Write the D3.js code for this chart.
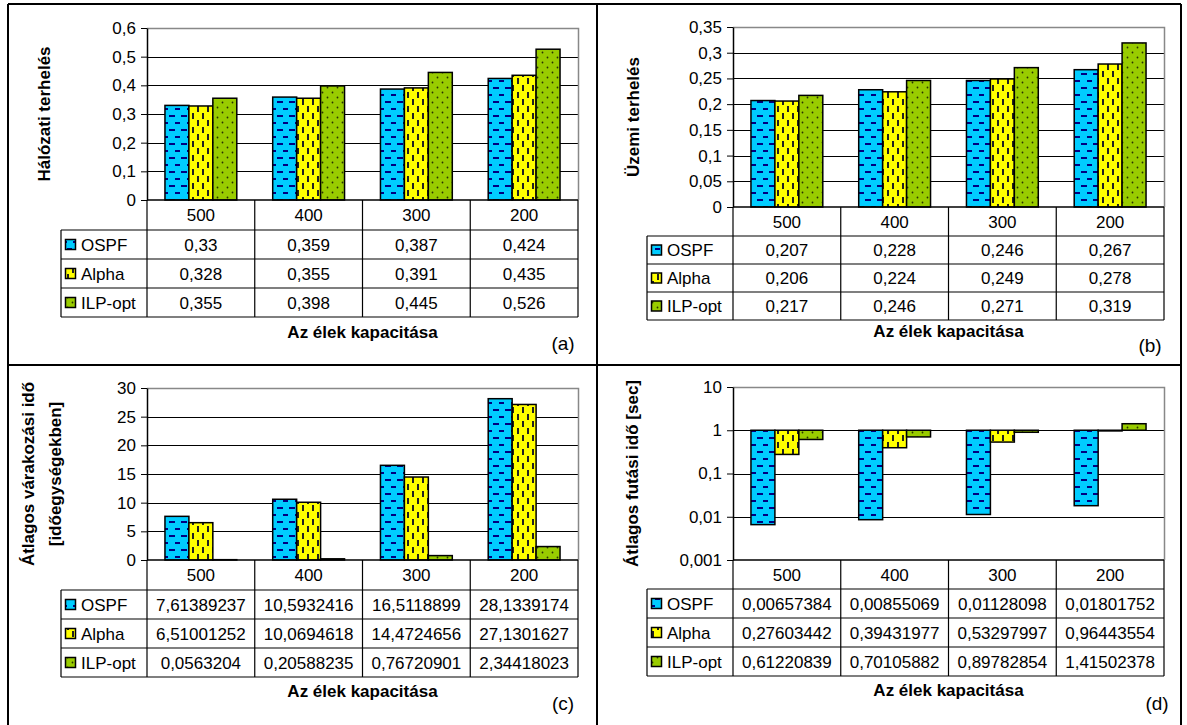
<!DOCTYPE html>
<html>
<head>
<meta charset="utf-8">
<script src="https://cdn.jsdelivr.net/npm/d3@7"></script>
<style>
  body { margin: 0; background: #fff; }
  text { font-family: "Liberation Sans", Arial, sans-serif; fill: #000; }
</style>
</head>
<body>
<script>
// chart data

var categories = ["500", "400", "300", "200"];
var series = ["OSPF", "Alpha", "ILP-opt"];

// (a) hálózati terhelés
var halozatiOSPF = [0.33, 0.359, 0.387, 0.424];
var halozatiAlpha = [0.328, 0.355, 0.391, 0.435];
var halozatiILP = [0.355, 0.398, 0.445, 0.526];
var halozatiTicks = [0, 0.1, 0.2, 0.3, 0.4, 0.5, 0.6];

// (b) üzemi terhelés
var uzemiOSPF = [0.207, 0.228, 0.246, 0.267];
var uzemiAlpha = [0.206, 0.224, 0.249, 0.278];
var uzemiILP = [0.217, 0.246, 0.271, 0.319];
var uzemiTicks = [0, 0.05, 0.1, 0.15, 0.2, 0.25, 0.3, 0.35];

// (c) átlagos várakozási idő
var varakozasiOSPF = [7.61389237, 10.5932416, 16.5118899, 28.1339174];
var varakozasiAlpha = [6.51001252, 10.0694618, 14.4724656, 27.1301627];
var varakozasiILP = [0.0563204, 0.20588235, 0.76720901, 2.34418023];
var varakozasiTicks = [0, 5, 10, 15, 20, 25, 30];

// (d) átlagos futási idő
var futasiOSPF = [0.00657384, 0.00855069, 0.01128098, 0.01801752];
var futasiAlpha = [0.27603442, 0.39431977, 0.53297997, 0.96443554];
var futasiILP = [0.61220839, 0.70105882, 0.89782854, 1.41502378];
var futasiTicks = [0.001, 0.01, 0.1, 1, 10];

var width = 1187,
    height = 725;

var svg = d3.select("body").append("svg")
    .attr("width", width)
    .attr("height", height);

svg.append("rect").attr("width", width).attr("height", height).attr("fill", "#fff");

// fill patterns, one per series
var defs = svg.append("defs");

var pOspf = defs.append("pattern").attr("id", "pat0")
    .attr("patternUnits", "userSpaceOnUse").attr("width", 12).attr("height", 14);
pOspf.append("rect").attr("width", 12).attr("height", 14).attr("fill", "#00CCFF");
pOspf.append("rect").attr("x", 1).attr("y", 3).attr("width", 6).attr("height", 2).attr("fill", "#000080");
pOspf.append("rect").attr("x", 7).attr("y", 10).attr("width", 5).attr("height", 2).attr("fill", "#000080");

var pAlpha = defs.append("pattern").attr("id", "pat1")
    .attr("patternUnits", "userSpaceOnUse").attr("width", 10).attr("height", 14);
pAlpha.append("rect").attr("width", 10).attr("height", 14).attr("fill", "#FFFF00");
pAlpha.append("rect").attr("x", 2).attr("y", 1).attr("width", 2).attr("height", 6).attr("fill", "#222");
pAlpha.append("rect").attr("x", 7).attr("y", 8).attr("width", 2).attr("height", 6).attr("fill", "#222");

var pIlp = defs.append("pattern").attr("id", "pat2")
    .attr("patternUnits", "userSpaceOnUse").attr("width", 10).attr("height", 10);
pIlp.append("rect").attr("width", 10).attr("height", 10).attr("fill", "#99CC00");
pIlp.append("circle").attr("cx", 2.5).attr("cy", 2.5).attr("r", 0.9).attr("fill", "#2a3300");
pIlp.append("circle").attr("cx", 7.5).attr("cy", 7.5).attr("r", 0.9).attr("fill", "#2a3300");

// comma decimal like the original
function fmt(v) {
  return String(+v.toPrecision(9)).replace(".", ",");
}

function panel(p) {
  var g = svg.append("g");

  var x = d3.scaleBand().domain(categories).range([p.left, p.right])
      .paddingInner(1 / 3).paddingOuter(1 / 6);
  var xs = d3.scaleBand().domain(series).range([0, x.bandwidth()]);
  var y = p.log
      ? d3.scaleLog().domain([p.ticks[0], p.ticks[p.ticks.length - 1]]).range([p.bottom, p.top])
      : d3.scaleLinear().domain([p.ticks[0], p.ticks[p.ticks.length - 1]]).range([p.bottom, p.top]);

  // gridlines
  g.selectAll(".grid").data(p.ticks.slice(1, -1)).enter().append("line")
      .attr("x1", p.left).attr("x2", p.right)
      .attr("y1", function(d) { return Math.round(y(d)) + 0.5; })
      .attr("y2", function(d) { return Math.round(y(d)) + 0.5; })
      .attr("stroke", "#000").attr("stroke-width", 1);

  // plot area border (top, right)
  g.append("path")
      .attr("d", "M" + p.left + "," + (p.top + 0.5) + "H" + (p.right + 0.5) + "V" + p.bottom)
      .attr("fill", "none").attr("stroke", "#888").attr("stroke-width", 1.5);

  // bars
  var rows = series.map(function(s, i) {
    return categories.map(function(c, j) { return { s: i, c: c, v: p.values[i][j] }; });
  });
  var base = y(p.base);
  g.selectAll(".bar").data(d3.merge(rows)).enter().append("rect")
      .attr("x", function(d) { return x(d.c) + xs(series[d.s]); })
      .attr("width", xs.bandwidth())
      .attr("y", function(d) { return Math.min(y(d.v), base); })
      .attr("height", function(d) { return Math.abs(y(d.v) - base); })
      .attr("fill", function(d) { return "url(#pat" + d.s + ")"; })
      .attr("stroke", "#000").attr("stroke-width", 1.5);

  // y axis
  var axis = g.append("g")
      .attr("transform", "translate(" + p.left + ",0)")
      .call(d3.axisLeft(y).tickValues(p.ticks).tickFormat(fmt).tickSize(6).tickPadding(5).tickSizeOuter(0));
  axis.select(".domain").attr("stroke", "#000").attr("stroke-width", 1.5);
  axis.selectAll(".tick line").attr("stroke", "#000");
  axis.selectAll("text").attr("font-size", 17).attr("fill", "#000")
      .attr("font-family", "Liberation Sans, Arial, sans-serif");

  // y axis title
  var mid = (p.top + p.bottom) / 2;
  p.title.forEach(function(t, i) {
    g.append("text")
        .attr("transform", "translate(" + p.titleX[i] + "," + mid + ") rotate(-90)")
        .attr("text-anchor", "middle").attr("dy", "0.35em")
        .attr("font-size", 17).attr("font-weight", "bold")
        .text(t);
  });

  // data table
  var step = x.step();
  var tTop = p.bottom, hRow = p.hh, bRow = p.rh;
  var tBottom = tTop + hRow + bRow * 3;
  var tg = g.append("g").attr("stroke", "#000").attr("stroke-width", 1.2);
  // horizontal lines
  tg.append("line").attr("x1", p.left).attr("x2", p.right).attr("y1", tTop).attr("y2", tTop).attr("stroke-width", 1.5);
  [0, 1, 2, 3].forEach(function(k) {
    var yy = tTop + hRow + bRow * k;
    tg.append("line").attr("x1", p.tleft).attr("x2", p.right).attr("y1", yy).attr("y2", yy);
  });
  // vertical lines
  tg.append("line").attr("x1", p.tleft).attr("x2", p.tleft).attr("y1", tTop + hRow).attr("y2", tBottom);
  d3.range(5).forEach(function(k) {
    var xx = p.left + step * k;
    tg.append("line").attr("x1", xx).attr("x2", xx).attr("y1", tTop).attr("y2", tBottom);
  });

  // header labels
  g.selectAll(".hdr").data(categories).enter().append("text")
      .attr("x", function(d) { return x(d) + x.bandwidth() / 2; })
      .attr("y", tTop + hRow / 2).attr("dy", "0.36em")
      .attr("text-anchor", "middle").attr("font-size", 17)
      .text(function(d) { return d; });

  // body rows
  series.forEach(function(s, i) {
    var cy = tTop + hRow + bRow * i + bRow / 2;
    g.append("rect")
        .attr("x", p.tleft + 4.5).attr("y", cy - 5).attr("width", 10).attr("height", 10)
        .attr("fill", "url(#pat" + i + ")").attr("stroke", "#000").attr("stroke-width", 1.5);
    g.append("text").attr("x", p.tleft + 20).attr("y", cy).attr("dy", "0.36em")
        .attr("font-size", 17).text(s);
    g.selectAll(".cell" + i).data(p.values[i]).enter().append("text")
        .attr("x", function(d, j) { return x(categories[j]) + x.bandwidth() / 2; })
        .attr("y", cy).attr("dy", "0.36em")
        .attr("text-anchor", "middle").attr("font-size", 17)
        .text(fmt);
  });

  // x axis title and panel letter
  g.append("text").attr("x", (p.left + p.right) / 2).attr("y", tBottom + p.titleDy).attr("dy", "0.36em")
      .attr("text-anchor", "middle").attr("font-size", 17).attr("font-weight", "bold")
      .text("Az élek kapacitása");
  g.append("text").attr("x", p.letterX).attr("y", p.letterY).attr("dy", "0.36em")
      .attr("text-anchor", "middle").attr("font-size", 19)
      .text(p.letter);
}

panel({ left: 147, right: 578, top: 28, bottom: 200, hh: 30, rh: 29, tleft: 61, titleDy: 15,
  ticks: halozatiTicks, base: 0, values: [halozatiOSPF, halozatiAlpha, halozatiILP],
  title: ["Hálózati terhelés"], titleX: [44], letter: "(a)", letterX: 563, letterY: 343 });

panel({ left: 733, right: 1164, top: 27, bottom: 207, hh: 29, rh: 28, tleft: 647, titleDy: 11,
  ticks: uzemiTicks, base: 0, values: [uzemiOSPF, uzemiAlpha, uzemiILP],
  title: ["Üzemi terhelés"], titleX: [633], letter: "(b)", letterX: 1150, letterY: 345 });

panel({ left: 147, right: 578, top: 388, bottom: 560, hh: 30, rh: 29, tleft: 61, titleDy: 14,
  ticks: varakozasiTicks, base: 0, values: [varakozasiOSPF, varakozasiAlpha, varakozasiILP],
  title: ["Átlagos várakozási idő", "[időegységekben]"], titleX: [28, 55], letter: "(c)", letterX: 563, letterY: 703 });

panel({ left: 733, right: 1164, top: 387, bottom: 560, hh: 29, rh: 29, tleft: 647, titleDy: 14, log: true,
  ticks: futasiTicks, base: 1, values: [futasiOSPF, futasiAlpha, futasiILP],
  title: ["Átlagos futási idő [sec]"], titleX: [632], letter: "(d)", letterX: 1157, letterY: 703 });

// outer frame and panel dividers
var frame = svg.append("g").attr("stroke", "#000").attr("stroke-width", 2);
frame.append("line").attr("x1", 8).attr("x2", 8).attr("y1", 4).attr("y2", height);
frame.append("line").attr("x1", 8).attr("x2", 1181).attr("y1", 4).attr("y2", 4);
frame.append("line").attr("x1", 597).attr("x2", 597).attr("y1", 4).attr("y2", height);
frame.append("line").attr("x1", 8).attr("x2", 1181).attr("y1", 365).attr("y2", 365);
frame.append("line").attr("x1", 1181).attr("x2", 1181).attr("y1", 4).attr("y2", height);
</script>
</body>
</html>
